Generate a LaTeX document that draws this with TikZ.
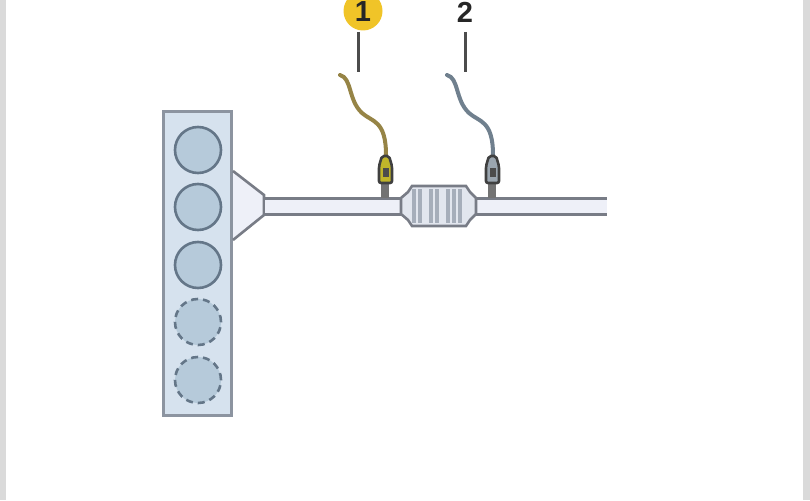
\documentclass[tikz,border=0pt]{standalone}
\usepackage{fontspec}
\setmainfont{Liberation Sans}
\usetikzlibrary{positioning}
\usetikzlibrary{calc}
\definecolor{blockfill}{RGB}{214,226,238}
\definecolor{blockline}{RGB}{140,148,160}
\definecolor{borefill}{RGB}{182,202,218}
\definecolor{boreline}{RGB}{100,118,136}
\definecolor{pipeline}{RGB}{120,124,134}
\definecolor{pipefill}{RGB}{238,240,248}
\definecolor{catfill}{RGB}{226,230,238}
\definecolor{catrib}{RGB}{166,174,186}
\definecolor{badge}{RGB}{240,196,40}
\definecolor{cableone}{RGB}{150,132,70}
\definecolor{cabletwo}{RGB}{112,128,142}
\definecolor{stripgray}{RGB}{218,218,218}
\tikzset{
   bore/.style = {%
    shape=circle,
    minimum size=46pt,
    inner sep=0pt,
    draw=boreline,
    line width=2.6pt,
    fill=borefill},
   hiddenbore/.style = {%
    bore,
    dash pattern=on 7pt off 5pt},
   numlabel/.style = {%
    inner sep=0pt,
    text=black!85,
    font=\bfseries\fontsize{29}{29}\selectfont},
   leader/.style = {%
    draw=black!70,
    line width=2.8pt},
   pipe/.style = {%
    draw=pipeline,
    line width=2.6pt,
    fill=pipefill},
   cable/.style = {%
    line width=4pt,
    line cap=round},
   sensorbody/.style = {%
    rounded corners=2pt,
    draw=black!75,
    line width=2.6pt},
    }
\begin{document}
\begin{tikzpicture}[x=1pt,y=-1pt]
    \useasboundingbox (0,0) rectangle (810,500);
    % side strips
    \fill[stripgray] (0,0) rectangle (6,500);
    \fill[stripgray] (803,0) rectangle (810,500);
    % engine block
    \node[draw=blockline, line width=3.4pt, fill=blockfill, minimum width=68pt,
          minimum height=304pt, inner sep=0pt] (block) at (197.5,263.5) {};
    \node[bore] (bore1) at (198,150) {};
    \node[bore] (bore2) at (198,207) {};
    \node[bore] (bore3) at (198,265) {};
    \node[hiddenbore] (bore4) at (198,322) {};
    \node[hiddenbore] (bore5) at (198,380) {};
    % exhaust
    \draw[pipe] (233,171) -- (264,195) -- (264,215) -- (233,240);
    \fill[pipefill] (265,199) rectangle (402,213);
    \fill[pipefill] (472,199) rectangle (607,213);
    \draw[pipeline, line width=3pt] (264,198) -- (401,198) (264,214) -- (401,214);
    \draw[pipeline, line width=3pt] (473,198) -- (607,198) (473,214) -- (607,214);
    % catalytic converter
    \draw[pipe, fill=catfill] (401,198) -- (408,192) -- (412,186) -- (466,186)
        -- (470,192) -- (476,198) -- (476,214) -- (470,220) -- (466,226) -- (412,226)
        -- (408,220) -- (401,214) -- cycle;
    \foreach \x in {414,420,431,437,448,454,460}
        \draw[catrib, line width=3.4pt] (\x,189) -- (\x,223);
    % sensor 1
    \draw[cable, draw=cableone] (340,75) .. controls (352,78) and (348,100) .. (362,113)
        .. controls (372,122) and (386,120) .. (386,155);
    \fill[black!55] (381,184) rectangle (389,198);
    \draw[sensorbody, fill=cableone!60!yellow] (382,156) -- (389,156) -- (392,166) -- (392,183)
        -- (379,183) -- (379,166) -- cycle;
    \node[fill=black!70, minimum width=6pt, minimum height=9pt, inner sep=0pt] (sensor1) at (385.5,172) {};
    % sensor 2
    \draw[cable, draw=cabletwo] (447,75) .. controls (459,78) and (455,100) .. (469,113)
        .. controls (479,122) and (493,120) .. (493,155);
    \fill[black!55] (488,184) rectangle (496,198);
    \draw[sensorbody, fill=cabletwo!70] (489,156) -- (496,156) -- (499,166) -- (499,183)
        -- (486,183) -- (486,166) -- cycle;
    \node[fill=black!70, minimum width=6pt, minimum height=9pt, inner sep=0pt] (sensor2) at (492.5,172) {};
    % labels
    \node[shape=circle, fill=badge, minimum size=39pt, inner sep=0pt] (badge1) at (363,11) {};
    \node[numlabel] (num1) at (363,12) {1};
    \node[numlabel] (num2) at (465,12) {2};
    \coordinate (end1) at (358.5,72);
    \coordinate (end2) at (465.5,72);
    \draw[leader] (358.5,32) -- (end1);
    \draw[leader] (465.5,32) -- (end2);
\end{tikzpicture}
\end{document}
